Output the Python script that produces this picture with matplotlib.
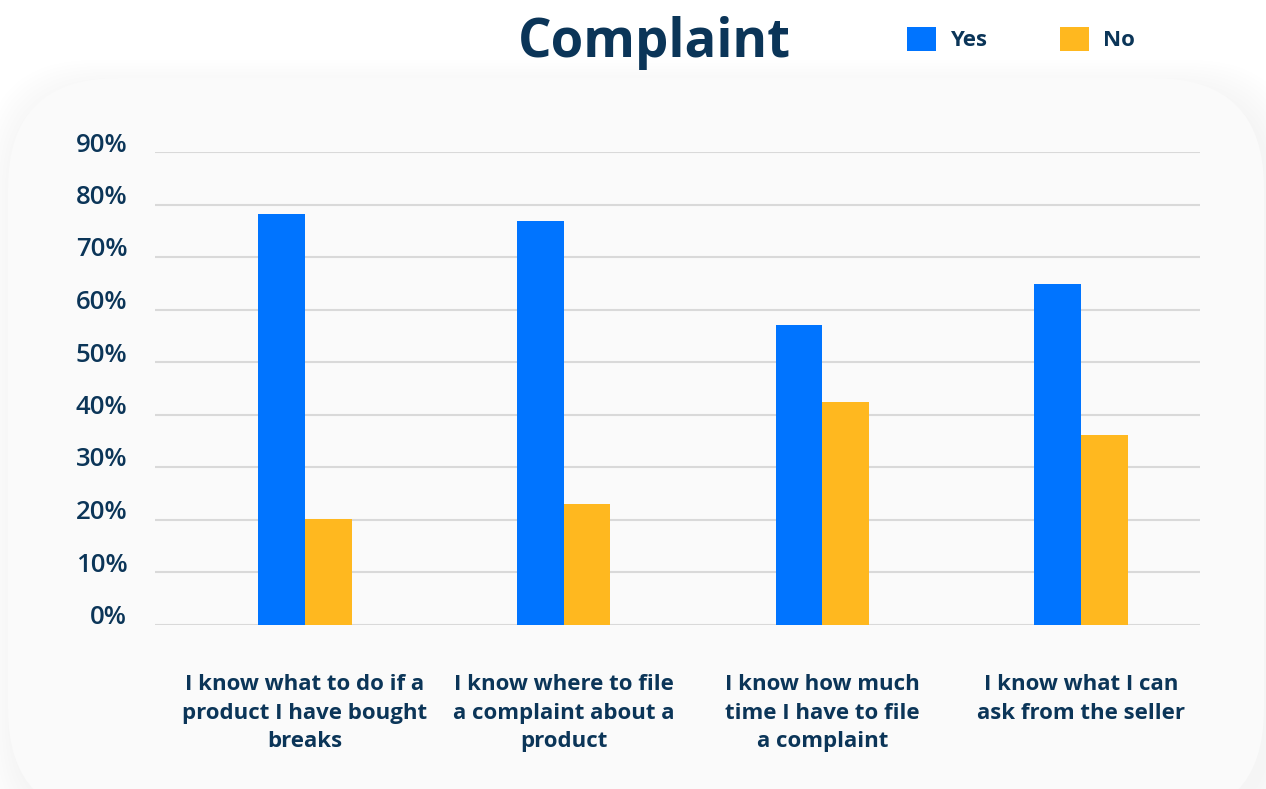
import matplotlib
matplotlib.use("Agg")
import matplotlib.pyplot as plt
import numpy as np
from matplotlib.patches import FancyBboxPatch
from matplotlib.transforms import ScaledTranslation

categories = [
    "I know what to do if a\nproduct I have bought\nbreaks",
    "I know where to file\na complaint about a\nproduct",
    "I know how much\ntime I have to file\na complaint",
    "I know what I can\nask from the seller",
]
yes_values = [78.2, 76.8, 57.0, 64.8]
no_values = [20.1, 23.0, 42.3, 36.1]
y_ticks = [0, 10, 20, 30, 40, 50, 60, 70, 80, 90]

NAVY = "#0b3558"
BLUE = "#0074ff"
ORANGE = "#ffb81f"
FONT = ["Open Sans", "DejaVu Sans"]

plt.rcParams["font.family"] = FONT

W, H = 1266, 789
fig = plt.figure(figsize=(W / 100, H / 100), dpi=100)
fig.patch.set_facecolor("white")

# rounded card behind the chart, with a soft shadow falling down-right
card = dict(boxstyle="round,pad=0,rounding_size=1.1", transform=fig.dpi_scale_trans)
for i in range(10, 0, -1):
    g = i * 0.03
    fig.patches.append(FancyBboxPatch(
        (0.08 - g + 0.06, -0.3 - g - 0.08), 12.56 + 2 * g, 7.41 + 2 * g - 0.04,
        facecolor="black", edgecolor="none", alpha=0.0045, zorder=0, **card))
fig.patches.append(FancyBboxPatch(
    (0.08, -0.3), 12.56, 7.41, facecolor="#fafafa", edgecolor="none", zorder=1, **card))

ax = fig.add_axes([155 / W, 164.5 / H, (1200 - 155) / W, (624.5 - 152) / H])
ax.set_facecolor("none")
ax.set_zorder(2)

x = np.arange(len(categories))
bw = 0.18
bars_yes = ax.bar(x - bw / 2, yes_values, bw, color=BLUE, label="Yes", zorder=3)
bars_no = ax.bar(x + bw / 2, no_values, bw, color=ORANGE, label="No", zorder=3)

ax.set_xlim(-0.58, 3.46)
ax.set_ylim(0, 90)
ax.set_yticks(y_ticks)
ax.set_yticklabels([f"{v}%" for v in y_ticks], fontsize=18.5, color=NAVY, fontweight="semibold")
ax.tick_params(axis="y", length=0, pad=20)
for lab in ax.get_yticklabels():
    lab.set_transform(lab.get_transform() + ScaledTranslation(0, 0.10, fig.dpi_scale_trans))

ax.set_xticks(x)
ax.set_xticklabels(categories, fontsize=16, color=NAVY, fontweight="bold",
                   linespacing=1.44, va="top")
ax.tick_params(axis="x", length=0, pad=36)

ax.yaxis.grid(True, color="#d9d9d9", linewidth=1.5, zorder=1)
ax.set_axisbelow(True)
for s in ax.spines.values():
    s.set_visible(False)

fig.text(654 / W, 1 - 57 / H, "Complaint", fontsize=38, fontweight="bold",
         color=NAVY, ha="center", va="baseline")

leg = fig.legend(handles=[bars_yes, bars_no], labels=["Yes", "No"], ncol=2,
                 loc="center left", bbox_to_anchor=(907 / W, 1 - 39 / H),
                 frameon=False, fontsize=16, handlelength=1.3, handleheight=1.3,
                 handletextpad=0.62, columnspacing=3.3, borderpad=0, borderaxespad=0)
for t in leg.get_texts():
    t.set_color(NAVY)
    t.set_fontweight("bold")

fig.savefig("out.png", dpi=100)
